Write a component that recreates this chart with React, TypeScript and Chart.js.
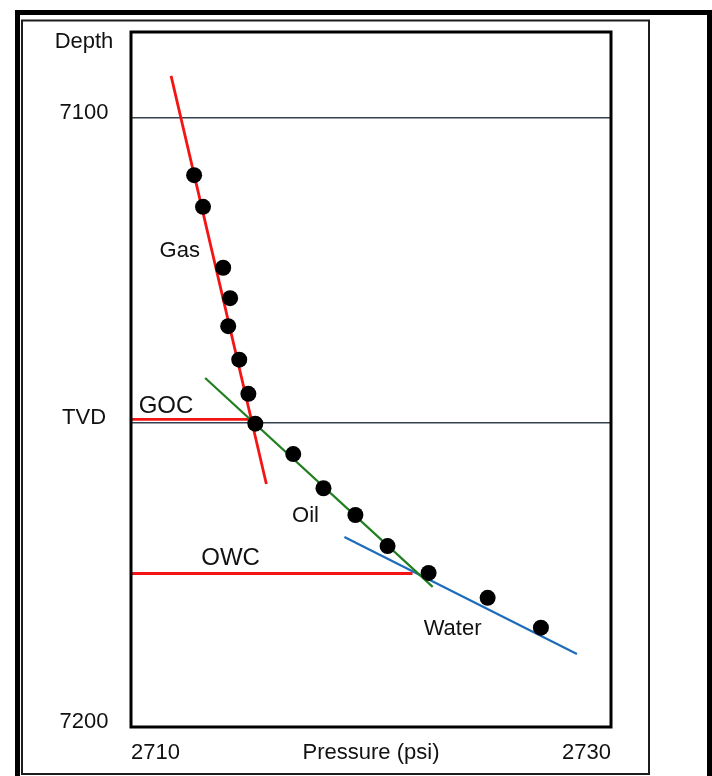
import { useEffect, useRef } from "react";
import { Chart, registerables } from "chart.js";

Chart.register(...registerables);

// Axis ticks
const X_TICKS = [2710, 2730];
const X_TICK_LABELS = ["2710", "2730"];
const Y_TICKS = [7100, 7150, 7200];
const Y_TICK_LABELS = ["7100", "TVD", "7200"];
const X_MIN = 2710;
const X_MAX = 2730;
const Y_MIN = 7085.9;
const Y_MAX = 7200;

// Measured pressure points (psi) and depths (ft TVD)
const PRESSURE = [
  2712.63, 2713.0, 2713.84, 2714.13, 2714.05, 2714.51, 2714.89, 2715.18,
  2716.76, 2718.02, 2719.35, 2720.69, 2722.4, 2724.86, 2727.08,
];
const DEPTH = [
  7109.4, 7114.6, 7124.6, 7129.6, 7134.2, 7139.7, 7145.3, 7150.2,
  7155.2, 7160.8, 7165.2, 7170.3, 7174.7, 7178.8, 7183.7,
];

// Gradient lines (two end points each)
const GAS_LINE_P = [2711.67, 2715.64];
const GAS_LINE_D = [7093.1, 7160.1];
const OIL_LINE_P = [2713.09, 2722.57];
const OIL_LINE_D = [7142.7, 7177.0];
const WATER_LINE_P = [2718.89, 2728.58];
const WATER_LINE_D = [7168.8, 7188.0];

// Contacts
const GOC_P = [2710, 2714.93];
const GOC_D = [7149.5, 7149.5];
const OWC_P = [2710, 2721.73];
const OWC_D = [7174.8, 7174.8];

// Zone labels (in data coordinates)
const ZONE_LABELS = ["Gas", "Oil", "Water", "GOC", "OWC"];
const ZONE_LABEL_P = [2712.03, 2717.27, 2723.4, 2711.46, 2714.15];
const ZONE_LABEL_D = [7121.9, 7165.4, 7183.9, 7147.4, 7172.3];
const ZONE_LABEL_SIZE = [22, 22, 22, 24, 24];

const FONT = '"Liberation Sans", Arial, Helvetica, sans-serif';
const TEXT = "#111111";

const pts = (xs: number[], ys: number[]) => xs.map((x, i) => ({ x, y: ys[i] }));

const decor = {
  id: "decor",
  beforeDraw(chart: any) {
    const ctx = chart.ctx;
    ctx.save();
    ctx.fillStyle = "#ffffff";
    ctx.fillRect(0, 0, chart.width, chart.height);
    ctx.strokeStyle = "#000000";
    ctx.lineWidth = 5;
    ctx.strokeRect(17.5, 12.5, 692, 800);
    ctx.lineWidth = 2;
    ctx.strokeStyle = "#1c1c1c";
    ctx.strokeRect(22, 20.5, 627, 753.5);
    ctx.restore();
  },
  afterDatasetsDraw(chart: any) {
    const { ctx, chartArea: a, scales } = chart;
    ctx.save();
    ctx.strokeStyle = "#000000";
    ctx.lineWidth = 3;
    ctx.strokeRect(a.left, a.top, a.right - a.left, a.bottom - a.top);
    ctx.fillStyle = TEXT;
    ctx.textAlign = "center";
    ctx.textBaseline = "middle";
    ctx.font = `22px ${FONT}`;
    ctx.fillText("Depth", 84, 42);
    ZONE_LABELS.forEach((t, i) => {
      ctx.font = `${ZONE_LABEL_SIZE[i]}px ${FONT}`;
      ctx.fillText(
        t,
        scales.x.getPixelForValue(ZONE_LABEL_P[i]),
        scales.y.getPixelForValue(ZONE_LABEL_D[i])
      );
    });
    ctx.restore();
  },
};

export default function App() {
  const ref = useRef<HTMLCanvasElement>(null);
  useEffect(() => {
    const line = (data: any[], color: string, width: number) => ({
      type: "scatter" as const,
      data,
      showLine: true,
      borderColor: color,
      borderWidth: width,
      pointRadius: 0,
      pointHoverRadius: 0,
      fill: false,
      order: 2,
    });
    const chart = new Chart(ref.current!, {
      type: "scatter",
      data: {
        datasets: [
          {
            data: pts(PRESSURE, DEPTH),
            pointRadius: 8,
            pointHoverRadius: 8,
            backgroundColor: "#000000",
            borderWidth: 0,
            order: 0,
          } as any,
          line(pts(GAS_LINE_P, GAS_LINE_D), "#f41414", 2.8),
          line(pts(OIL_LINE_P, OIL_LINE_D), "#1f7f1f", 2.2),
          line(pts(WATER_LINE_P, WATER_LINE_D), "#1d6cbc", 2.2),
          line(pts(GOC_P, GOC_D), "#f41414", 2.8),
          line(pts(OWC_P, OWC_D), "#f41414", 2.8),
        ],
      },
      options: {
        responsive: false,
        animation: false,
        layout: { padding: { top: 32, right: 101, bottom: 0, left: 0 } },
        plugins: { legend: { display: false }, tooltip: { enabled: false } },
        scales: {
          x: {
            type: "linear",
            min: X_MIN,
            max: X_MAX,
            afterBuildTicks: (s: any) => {
              s.ticks = X_TICKS.map((v) => ({ value: v }));
            },
            afterFit: (s: any) => {
              s.height = 49;
              s.paddingLeft = 0;
              s.paddingRight = 0;
            },
            ticks: {
              align: "inner",
              padding: 13,
              maxRotation: 0,
              color: TEXT,
              font: { size: 22, family: FONT },
              callback: (v: any) => X_TICK_LABELS[X_TICKS.indexOf(Number(v))] ?? "",
            },
            grid: { display: false, drawTicks: false },
            border: { display: false },
            title: {
              display: true,
              text: "Pressure (psi)",
              color: TEXT,
              font: { size: 22, family: FONT },
              padding: { top: 0, bottom: 10 },
            },
          },
          y: {
            type: "linear",
            reverse: true,
            min: Y_MIN,
            max: Y_MAX,
            afterBuildTicks: (s: any) => {
              s.ticks = Y_TICKS.map((v) => ({ value: v }));
            },
            afterFit: (s: any) => {
              s.width = 131;
              s.paddingTop = 0;
              s.paddingBottom = 0;
            },
            ticks: {
              crossAlign: "center",
              padding: 22.5,
              labelOffset: -5,
              color: TEXT,
              font: { size: 22, family: FONT },
              callback: (v: any) => Y_TICK_LABELS[Y_TICKS.indexOf(Number(v))] ?? "",
            },
            grid: { drawTicks: false, color: "#34404c", lineWidth: 1.4 },
            border: { display: false },
          },
        },
      } as any,
      plugins: [decor],
    });
    return () => chart.destroy();
  }, []);
  return (
    <div style={{ position: "absolute", left: 0, top: 0, width: 712, height: 776 }}>
      <canvas ref={ref} width={712} height={776} style={{ display: "block" }} />
    </div>
  );
}
